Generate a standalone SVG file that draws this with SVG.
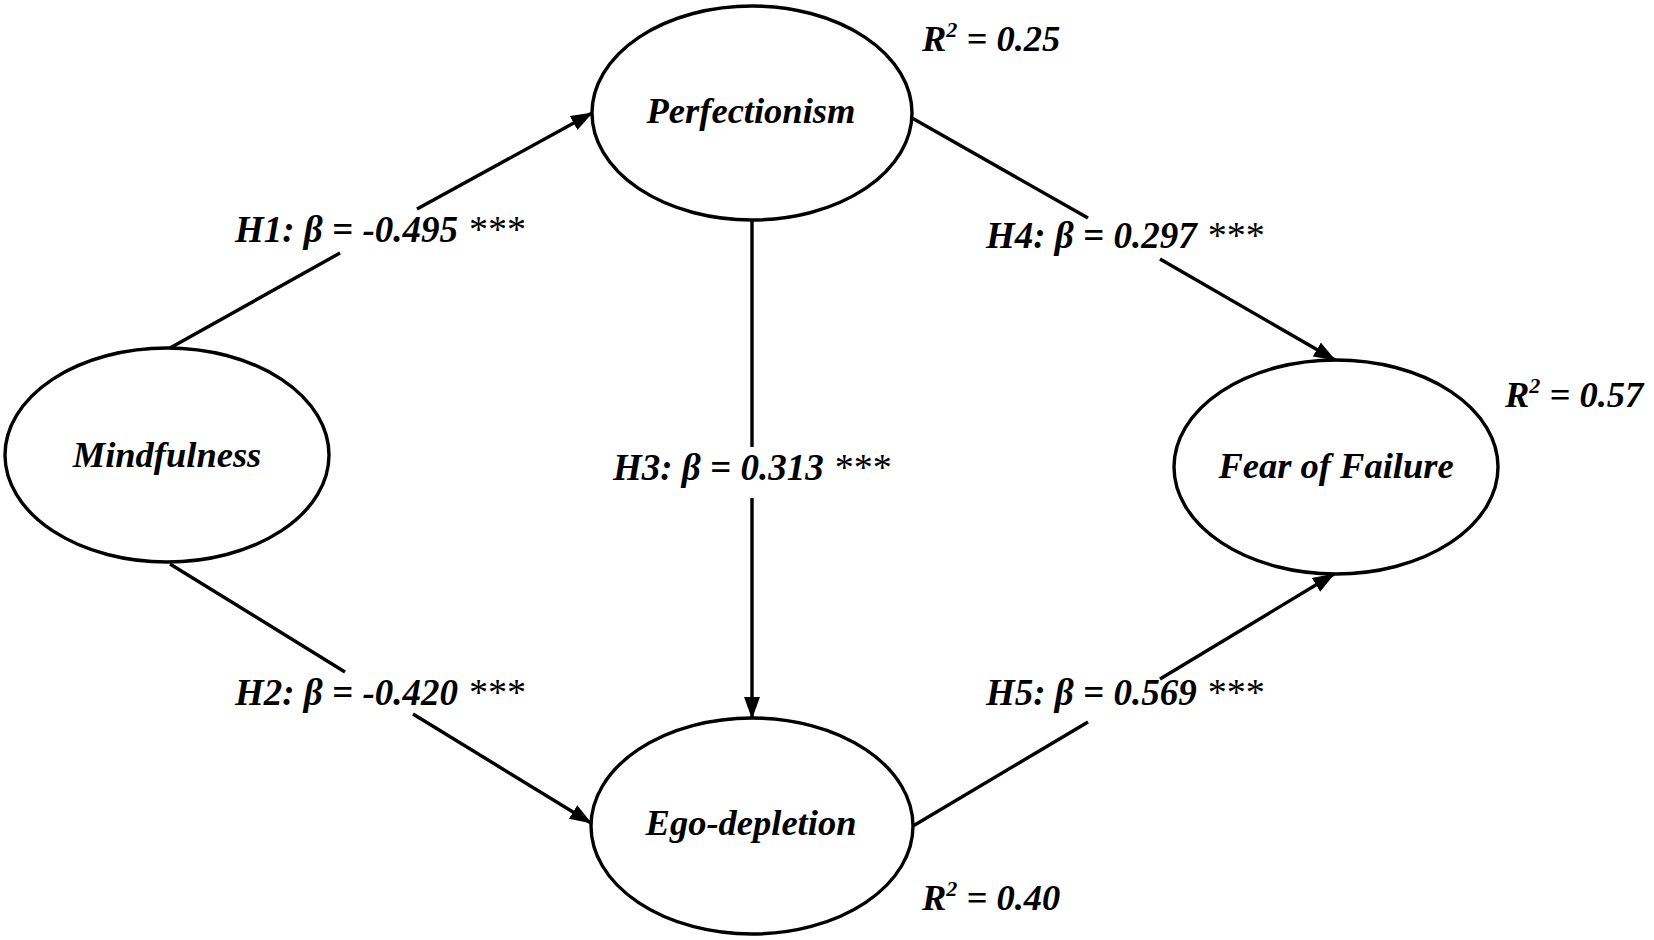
<svg xmlns="http://www.w3.org/2000/svg" width="1654" height="940" viewBox="0 0 1654 940">
<style>
.node{fill:#fff;stroke:#000;stroke-width:3.4}
.conn{stroke:#000;stroke-width:3.4;fill:none}
.t{font-family:"Liberation Serif","Times New Roman",serif;font-weight:bold;font-style:italic;font-size:36.5px;fill:#000}
.lbl{font-size:37px}
.mid{text-anchor:middle}
.star{font-weight:normal;font-size:38px}
.sup{font-size:22px}
</style>
<defs>
<marker id="arr" markerUnits="userSpaceOnUse" markerWidth="22" markerHeight="18" refX="21" refY="8" orient="auto">
<path d="M0,0 L22,8 L0,16 z" fill="#000"/>
</marker>
</defs>
<rect width="1654" height="940" fill="#fff"/>
<g id="connectors">
<line class="conn" x1="170" y1="348" x2="340" y2="253"/>
<line class="conn" x1="417" y1="209" x2="592" y2="113" marker-end="url(#arr)"/>
<line class="conn" x1="170" y1="564" x2="345" y2="672"/>
<line class="conn" x1="413" y1="714" x2="591" y2="823" marker-end="url(#arr)"/>
<line class="conn" x1="752" y1="221" x2="752" y2="447"/>
<line class="conn" x1="752" y1="498" x2="752" y2="718" marker-end="url(#arr)"/>
<line class="conn" x1="912" y1="118" x2="1088" y2="218"/>
<line class="conn" x1="1160" y1="259" x2="1335" y2="360" marker-end="url(#arr)"/>
<line class="conn" x1="913" y1="826" x2="1088" y2="722"/>
<line class="conn" x1="1160" y1="679" x2="1334" y2="574" marker-end="url(#arr)"/>
<text class="t lbl" x="235" y="242">H1: β = -0.495 <tspan class="star">***</tspan></text>
<text class="t lbl" x="235" y="705">H2: β = -0.420 <tspan class="star">***</tspan></text>
<text class="t lbl" x="613" y="480">H3: β = 0.313 <tspan class="star">***</tspan></text>
<text class="t lbl" x="986" y="248">H4: β = 0.297 <tspan class="star">***</tspan></text>
<text class="t lbl" x="986" y="705">H5: β = 0.569 <tspan class="star">***</tspan></text>
</g>
<g id="perfectionism">
<ellipse class="node" cx="752" cy="113" rx="160" ry="107"/>
<text class="t mid" x="751" y="123">Perfectionism</text>
<text class="t" x="922" y="51">R<tspan class="sup" dy="-14">2</tspan><tspan dy="14"> = 0.25</tspan></text>
</g>
<g id="mindfulness">
<ellipse class="node" cx="167" cy="455" rx="162" ry="107"/>
<text class="t mid" x="167" y="467">Mindfulness</text>
</g>
<g id="fear-of-failure">
<ellipse class="node" cx="1336" cy="467" rx="162" ry="107"/>
<text class="t mid" x="1336" y="478">Fear of Failure</text>
<text class="t" x="1505" y="407">R<tspan class="sup" dy="-14">2</tspan><tspan dy="14"> = 0.57</tspan></text>
</g>
<g id="ego-depletion">
<ellipse class="node" cx="752" cy="826" rx="161" ry="108"/>
<text class="t mid" x="751" y="835">Ego-depletion</text>
<text class="t" x="922" y="910">R<tspan class="sup" dy="-14">2</tspan><tspan dy="14"> = 0.40</tspan></text>
</g>
</svg>
